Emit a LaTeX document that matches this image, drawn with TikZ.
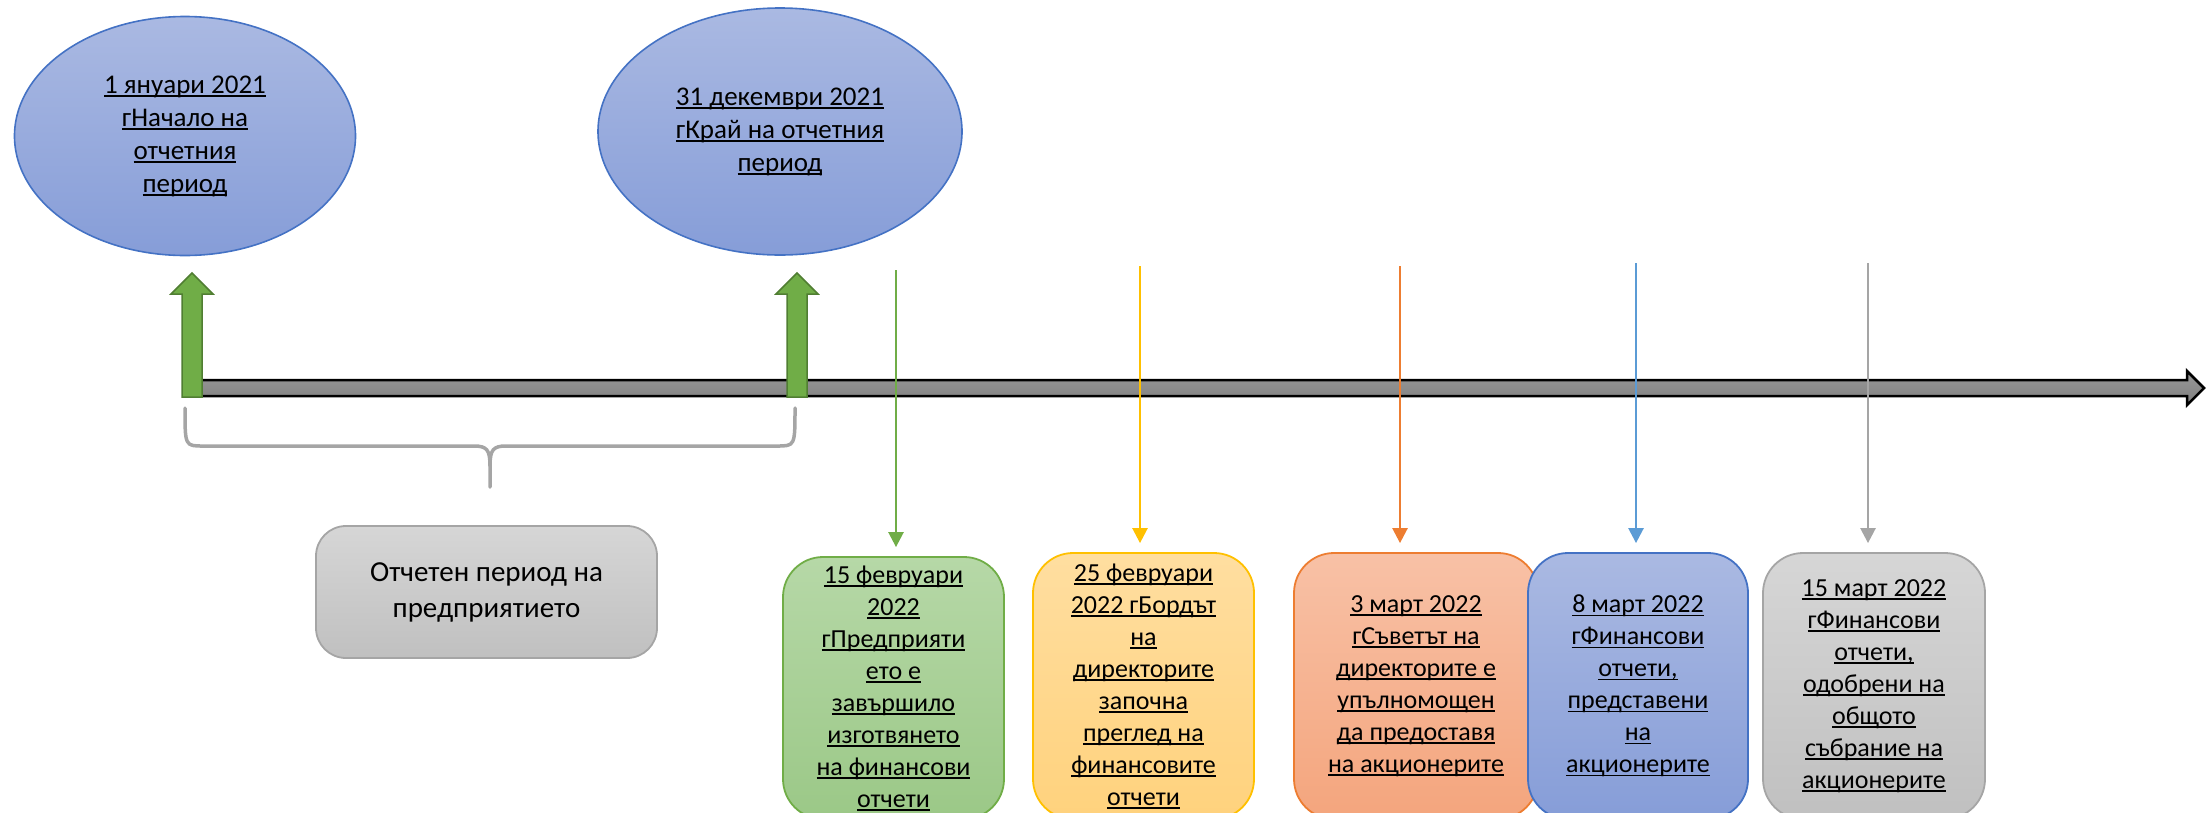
\documentclass[tikz,border=0pt]{standalone}
\usepackage{fontspec}
\setmainfont{Carlito}
\usetikzlibrary{arrows.meta,shapes.geometric}
\definecolor{bBorder}{HTML}{4472C4}
\definecolor{bTop}{RGB}{170,185,226}
\definecolor{bBot}{RGB}{134,157,216}
\definecolor{gBorder}{HTML}{70AD47}
\definecolor{gTop}{RGB}{182,216,167}
\definecolor{gBot}{RGB}{155,200,135}
\definecolor{gDark}{HTML}{507E32}
\definecolor{yBorder}{HTML}{FFC000}
\definecolor{yTop}{RGB}{255,222,160}
\definecolor{yBot}{RGB}{255,210,125}
\definecolor{oBorder}{HTML}{ED7D31}
\definecolor{oTop}{RGB}{248,193,166}
\definecolor{oBot}{RGB}{244,165,125}
\definecolor{grBorder}{HTML}{A5A5A5}
\definecolor{grTop}{RGB}{214,214,214}
\definecolor{grBot}{RGB}{192,192,192}
\definecolor{lBlue}{HTML}{5B9BD5}
\definecolor{barTop}{RGB}{152,152,152}
\definecolor{barBot}{RGB}{128,128,128}
\newcommand\ulin[1]{\leavevmode\setbox0=\hbox{#1}\rlap{\rule[-3.5pt]{\wd0}{1.6pt}}\box0}
\begin{document}
\begin{tikzpicture}[x=1pt,y=-1pt,
  ell/.style={ellipse,draw=bBorder,line width=1.6pt,top color=bTop,bottom color=bBot,inner sep=0pt,align=center,font=\fontsize{27}{33}\selectfont},
  evbox/.style={rectangle,rounded corners=40pt,line width=1.8pt,inner sep=0pt,align=center,font=\fontsize{26}{32}\selectfont},
  thin/.style={line width=2.5pt,-{Triangle[length=15pt,width=15pt]},shorten >=9pt},
  thick/.style={fill=gBorder,draw=gDark,line width=1.5pt,line join=miter}
]
\useasboundingbox (0,0) rectangle (2212,812);
\clip (0,0) rectangle (2212,812);

% timeline bar
\path[draw=black,line width=2.5pt,top color=barTop,bottom color=barBot,line join=miter]
  (190,380) -- (2187,380) -- (2187,371) -- (2204,388) -- (2187,405) -- (2187,396) -- (190,396) -- cycle;

% ellipses
\node[ell,minimum width=341pt,minimum height=239pt] (e1) at (185,136)
  {\ulin{1 януари 2021}\\\ulin{гНачало на}\\\ulin{отчетния}\\\ulin{период}};
\node[ell,minimum width=364pt,minimum height=247pt] (e2) at (780,131.5)
  {\ulin{31 декември 2021}\\\ulin{гКрай на отчетния}\\\ulin{период}};

% thick green arrows
\draw[thick] (182,397) -- (182,294) -- (171,294) -- (192,273) -- (213,294) -- (202,294) -- (202,397) -- cycle;
\draw[thick] (787,397) -- (787,294) -- (776,294) -- (797,273) -- (818,294) -- (807,294) -- (807,397) -- cycle;

% brace
\draw[grBorder,line width=3.5pt,line cap=round]
  (185,408) .. controls (185,446) .. (203,446) -- (474,446)
  .. controls (487,446) and (490,450) .. (490,466) -- (490,487);
\draw[grBorder,line width=3.5pt,line cap=round]
  (795,408) .. controls (795,446) .. (777,446) -- (506,446)
  .. controls (493,446) and (490,450) .. (490,466);

% period box
\node[evbox,rounded corners=30pt,draw=grBorder,top color=grTop,bottom color=grBot,
  minimum width=341pt,minimum height=132pt,font=\fontsize{29}{36}\selectfont] (per) at (486.5,592)
  {Отчетен период на\\предприятието};

% event boxes
\node[evbox,draw=gBorder,top color=gTop,bottom color=gBot,minimum width=221pt,minimum height=262pt] (g) at (893.5,688)
  {\ulin{15 февруари}\\\ulin{2022}\\\ulin{гПредприяти}\\\ulin{ето е}\\\ulin{завършило}\\\ulin{изготвянето}\\\ulin{на финансови}\\\ulin{отчети}};
\node[evbox,draw=yBorder,top color=yTop,bottom color=yBot,minimum width=221pt,minimum height=266pt] (y) at (1143.5,686)
  {\ulin{25 февруари}\\\ulin{2022 гБордът}\\\ulin{на}\\\ulin{директорите}\\\ulin{започна}\\\ulin{преглед на}\\\ulin{финансовите}\\\ulin{отчети}};
\node[evbox,draw=oBorder,top color=oTop,bottom color=oBot,minimum width=244pt,minimum height=266pt] (o) at (1416,686)
  {\ulin{3 март 2022}\\\ulin{гСъветът на}\\\ulin{директорите е}\\\ulin{упълномощен}\\\ulin{да предоставя}\\\ulin{на акционерите}};
\node[evbox,draw=bBorder,top color=bTop,bottom color=bBot,minimum width=220pt,minimum height=266pt] (b) at (1638,686)
  {\ulin{8 март 2022}\\\ulin{гФинансови}\\\ulin{отчети,}\\\ulin{представени}\\\ulin{на}\\\ulin{акционерите}};
\node[evbox,draw=grBorder,top color=grTop,bottom color=grBot,minimum width=222pt,minimum height=266pt] (gr) at (1874,686)
  {\ulin{15 март 2022}\\\ulin{гФинансови}\\\ulin{отчети,}\\\ulin{одобрени на}\\\ulin{общото}\\\ulin{събрание на}\\\ulin{акционерите}};

% thin arrows
\coordinate (a1) at (896,270);
\coordinate (a2) at (1140,266);
\coordinate (a3) at (1400,266);
\coordinate (a4) at (1636,263);
\coordinate (a5) at (1868,263);
\draw[thin,gBorder] (a1) -- (a1 |- g.north);
\draw[thin,yBorder] (a2) -- (a2 |- y.north);
\draw[thin,oBorder] (a3) -- (a3 |- o.north);
\draw[thin,lBlue] (a4) -- (a4 |- b.north);
\draw[thin,grBorder] (a5) -- (a5 |- gr.north);
\end{tikzpicture}
\end{document}
